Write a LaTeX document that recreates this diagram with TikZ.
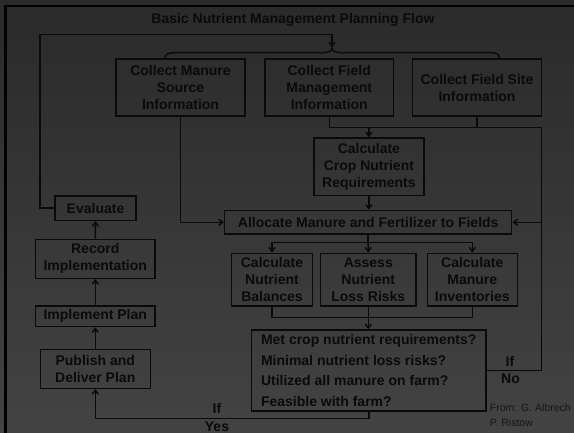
\documentclass[tikz,border=0pt]{standalone}
\usepackage{fontspec}
\setmainfont{Liberation Sans}
\usetikzlibrary{arrows.meta}
\definecolor{bgtop}{HTML}{2A2A2A}
\definecolor{bgbot}{HTML}{434343}
\definecolor{ink}{HTML}{0A0A0A}
\definecolor{noteink}{HTML}{161616}
\begin{document}
\begin{tikzpicture}[x=1pt,y=-1pt,
  box/.style={draw=ink, line width=1.5pt, inner sep=0pt, align=center,
    font=\fontsize{14}{17}\selectfont\bfseries, text=ink},
  conn/.style={draw=ink, line width=1.5pt},
  arr/.style={conn, -{Straight Barb[length=4pt,width=6pt]}},
  lbl/.style={font=\fontsize{14}{17}\selectfont\bfseries, text=ink, inner sep=0pt},
  note/.style={font=\fontsize{10.5}{12}\selectfont, text=noteink, inner sep=0pt, anchor=west}]
\useasboundingbox (0,0) rectangle (574,433);
\shade[top color=bgtop, bottom color=bgbot] (0,0) rectangle (574,433);
\fill[black] (4,5) rectangle (574,7.3);
\fill[black] (4,5) rectangle (7,433);

\node[lbl] (title) at (293,20.2) {Basic Nutrient Management Planning Flow};

\node[box, minimum width=129pt, minimum height=57pt] (m1) at (180.5,87.5) {Collect Manure\\Source\\Information};
\node[box, minimum width=128.5pt, minimum height=57pt] (m2) at (329.25,87.5) {Collect Field\\Management\\Information};
\node[box, minimum width=129pt, minimum height=57pt] (m3) at (477,87.5) {Collect Field Site\\Information};
\node[box, minimum width=110pt, minimum height=57.7pt] (crop) at (368.9,166.9) {Calculate\\Crop Nutrient\\Requirements};
\node[box, minimum width=287pt, minimum height=23.6pt] (alloc) at (368.2,222.3) {Allocate Manure and Fertilizer to Fields};
\node[box, minimum width=80.6pt, minimum height=52.7pt] (bal) at (272,279.7) {Calculate\\Nutrient\\Balances};
\node[box, minimum width=95.3pt, minimum height=52.7pt] (loss) at (368.3,279.7) {Assess\\Nutrient\\Loss Risks};
\node[box, minimum width=90pt, minimum height=52.7pt] (inv) at (472.3,279.7) {Calculate\\Manure\\Inventories};
\node[box, minimum width=234.5pt, minimum height=81pt, align=left,
  font=\fontsize{14}{20.6}\selectfont\bfseries] (q) at (368.75,370.5)
  {Met crop nutrient requirements?\\Minimal nutrient loss risks?\\Utilized all manure on farm?\\Feasible with farm?};
\node[box, minimum width=81pt, minimum height=24.3pt] (eval) at (95.5,208.2) {Evaluate};
\node[box, minimum width=119.5pt, minimum height=39pt] (rec) at (95.25,258.8) {Record\\Implementation};
\node[box, minimum width=119.5pt, minimum height=20.5pt] (impl) at (95.25,316.3) {Implement Plan};
\node[box, minimum width=110pt, minimum height=39pt] (pub) at (95.25,368.8) {Publish and\\Deliver Plan};

% loop back to top
\coordinate (tip) at (332,47.5);
\draw[arr] (eval.west) -| (40,34.3) -| (tip);
% brace
\draw[conn] (165,59) .. controls (165,54) and (168,52.7) .. (175,52.7) -- (320,52.7)
  .. controls (328,52.7) and (332,51.5) .. (332,48.5)
  .. controls (332,51.5) and (336,52.7) .. (344,52.7) -- (490,52.7)
  .. controls (497,52.7) and (499.5,54) .. (499.5,59);

% manure source to allocate
\draw[arr] (m1.south) |- (alloc.west);
% field management / site
\coordinate (R) at (541.7,127.3);
\draw[conn] (m2.south) |- (R) |- (q.east);
\draw[conn] (m3.south) -- (m3.south |- R);
\draw[arr] (crop.north |- R) -- (crop.north);
\draw[arr] (R |- alloc.east) -- (alloc.east);
\draw[arr] (crop.south) -- (crop.south |- alloc.north);

% branch
\coordinate (B1) at (368.2,242.3);
\draw[conn] (alloc.south) -- (B1);
\draw[arr] (B1) -| (bal.north);
\draw[arr] (B1) -| (inv.north);
\draw[arr] (B1) -- (loss.north);
% merge
\coordinate (B2) at (368.3,317.7);
\draw[conn] (bal.south) |- (B2);
\draw[conn] (inv.south) |- (B2);
\draw[arr] (loss.south) -- (loss.south |- q.north);

% yes path
\coordinate (Y) at (368.75,418.3);
\draw[arr] (q.south) -- (Y) -| (pub.south);
\draw[arr] (pub.north) -- (impl.south);
\draw[arr] (impl.north) -- (rec.south);
\draw[arr] (rec.north) -- (eval.south);

% labels
\node[lbl] (if1) at (217,408.5) {If};
\node[lbl] (yes) at (217,426.7) {Yes};
\node[lbl] (if2) at (510,361.5) {If};
\node[lbl] (no) at (510.5,378.8) {No};
\node[note] (from1) at (489.7,407.7) {From: G. Albrech};
\node[note] (from2) at (489.7,422.7) {P. Ristow};
\end{tikzpicture}
\end{document}
